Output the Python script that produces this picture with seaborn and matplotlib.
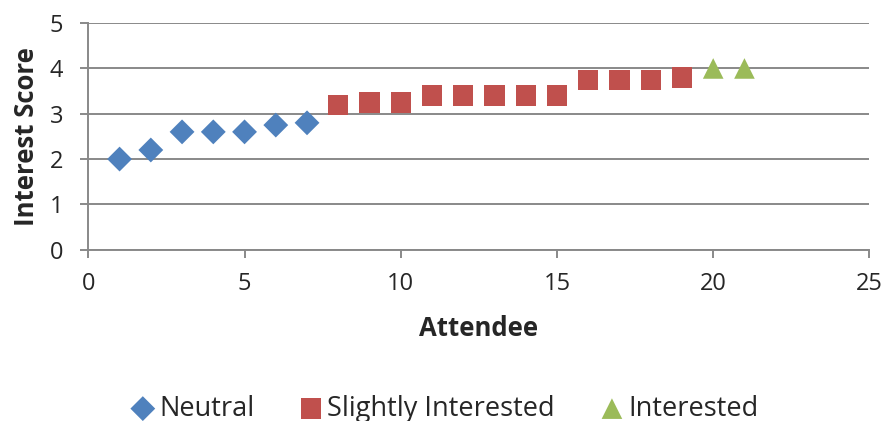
import matplotlib
matplotlib.use("Agg")
import matplotlib.pyplot as plt
import seaborn as sns
import pandas as pd

# Interest scores per attendee, grouped by interest level
neutral_attendees = [1, 2, 3, 4, 5, 6, 7]
neutral_scores = [2.0, 2.2, 2.6, 2.6, 2.6, 2.75, 2.8]

slight_attendees = [8, 9, 10, 11, 12, 13, 14, 15, 16, 17, 18, 19]
slight_scores = [3.2, 3.25, 3.25, 3.4, 3.4, 3.4, 3.4, 3.4, 3.75, 3.75, 3.75, 3.8]

interested_attendees = [20, 21]
interested_scores = [4.0, 4.0]

groups = ["Neutral", "Slightly Interested", "Interested"]
colors = ["#4F81BD", "#C0504D", "#9BBB59"]
markers = ["D", "s", "^"]

df = pd.concat([
    pd.DataFrame({"Attendee": neutral_attendees, "Score": neutral_scores, "Group": groups[0]}),
    pd.DataFrame({"Attendee": slight_attendees, "Score": slight_scores, "Group": groups[1]}),
    pd.DataFrame({"Attendee": interested_attendees, "Score": interested_scores, "Group": groups[2]}),
], ignore_index=True)

sns.set_style("white")
plt.rcParams["font.family"] = ["Open Sans", "DejaVu Sans"]

fig = plt.figure(figsize=(8.85, 4.21), dpi=100)
ax = fig.add_axes([0.0998, 0.407, 0.8826, 0.538])

sizes = {"Neutral": 160, "Slightly Interested": 215, "Interested": 220}
for g, c, m in zip(groups, colors, markers):
    sub = df[df["Group"] == g]
    sns.scatterplot(data=sub, x="Attendee", y="Score", ax=ax, color=c, marker=m,
                    s=sizes[g], edgecolor="none", label=g, zorder=3)

grid_c = "#898989"
ax.set_xlim(0, 25)
ax.set_ylim(0, 5)
ax.set_xticks(range(0, 26, 5))
ax.set_yticks(range(0, 6))
ax.yaxis.grid(True, color=grid_c, linewidth=1.4)
ax.xaxis.grid(False)
for s in ["top", "right"]:
    ax.spines[s].set_visible(False)
for s in ["left", "bottom"]:
    ax.spines[s].set_color(grid_c)
    ax.spines[s].set_linewidth(1.4)
ax.tick_params(axis="both", direction="out", length=6, width=1.4, color=grid_c,
               labelsize=17, bottom=True, left=True)
ax.tick_params(axis="x", pad=10)
ax.tick_params(axis="y", pad=12)

ax.set_xlabel("Attendee", fontsize=18.5, fontweight="bold", labelpad=14)
ax.set_ylabel("Interest Score", fontsize=18.5, fontweight="bold", labelpad=7)

handles, labels = ax.get_legend_handles_labels()
ax.legend_.remove()
leg = fig.legend(handles, labels, loc="lower center", bbox_to_anchor=(0.5, -0.062),
                 ncol=3, frameon=False, fontsize=19.5, handletextpad=0.0,
                 columnspacing=1.5, markerscale=1.0, handlelength=1.2)

fig.savefig("out.png", dpi=100)
